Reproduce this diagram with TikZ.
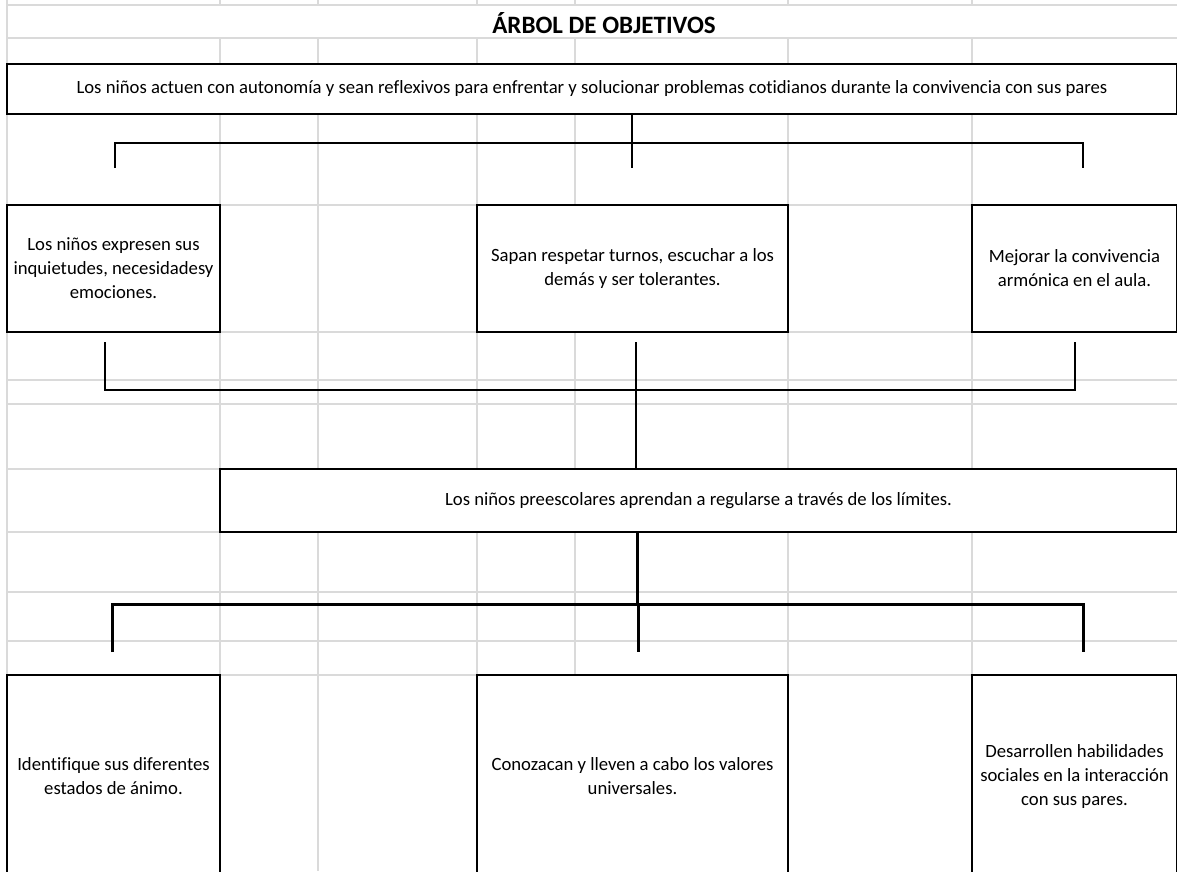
\documentclass[tikz,border=0pt]{standalone}
\usepackage{fontspec}
\setmainfont{Carlito}[Ligatures={NoCommon}]
\usepackage{tikz}
\definecolor{gridgray}{RGB}{218,218,218}

\begin{document}
\begin{tikzpicture}[
	x=1pt, y=-1pt,
	txt/.style={font=\fontsize{18.7}{24}\selectfont},
	box/.style={rectangle, draw, fill=white, line width=1.6pt, inner sep=2pt, outer sep=0pt, align=center, txt},
	cellline/.style={gridgray, line width=1.4pt},
	link/.style={line width=2.4pt},
	linkb/.style={line width=3pt}
	]
	\useasboundingbox (0,0) rectangle (1177,871);
	\clip (0,0) rectangle (1177,871);
	
	% Grid
	\foreach \gx in {7,220,318,477,575,788,972}
		\draw[cellline] (\gx,0) -- (\gx,871);
	\foreach \gy in {5,38,64,114,205,332,380,404,469,532,592,641,675}
		\draw[cellline] (7,\gy) -- (1177,\gy);
	\fill[white] (8,6) rectangle (1177,37);
	
	% Nodes
	\node (Titulo) at (604,23) {\fontsize{25}{28}\selectfont\bfseries ÁRBOL DE OBJETIVOS};
	\node (Fin) [box, minimum width=1170pt, minimum height=50pt] at (592,89) {Los niños actuen con autonomía y sean reflexivos para enfrentar y solucionar problemas cotidianos durante la convivencia con sus pares};
	\node (FinA) [box, minimum width=213pt, minimum height=127pt] at (113.5,268.5) {Los niños expresen sus\\inquietudes, necesidadesy\\emociones.};
	\node (FinB) [box, minimum width=311pt, minimum height=127pt] at (632.5,268.5) {Sapan respetar turnos, escuchar a los\\demás y ser tolerantes.};
	\node (FinC) [box, minimum width=205pt, minimum height=127pt] at (1074.5,268.5) {Mejorar la convivencia\\armónica en el aula.};
	\node (Proposito) [box, minimum width=957pt, minimum height=63pt] at (698.5,500.5) {Los niños preescolares aprendan a regularse a través de los límites.};
	\node (MedioA) [box, minimum width=213pt, minimum height=202pt] at (113.5,776) {Identifique sus diferentes\\estados de ánimo.};
	\node (MedioB) [box, minimum width=311pt, minimum height=202pt] at (632.5,776) {Conozacan y lleven a cabo los valores\\universales.};
	\node (MedioC) [box, minimum width=205pt, minimum height=202pt] at (1074.5,776) {Desarrollen habilidades\\sociales en la interacción\\con sus pares.};
	
	% Connectors
	\coordinate (topJ) at (632,143);
	\coordinate (topL) at (115,143);
	\coordinate (topR) at (1083,143);
	\coordinate (dropA) at (115,168);
	\coordinate (dropB) at (632,168);
	\coordinate (dropC) at (1083,168);
	\draw[link] (dropA) -- (topL) -- (topR) -- (dropC);
	\draw[link] (Fin.south -| topJ) -- (dropB);
	
	\coordinate (midJ) at (636,390);
	\coordinate (midL) at (105,390);
	\coordinate (midR) at (1075,390);
	\coordinate (riseA) at (105,342);
	\coordinate (riseB) at (636,342);
	\coordinate (riseC) at (1075,342);
	\draw[link] (riseA) -- (midL) -- (midR) -- (riseC);
	\draw[link] (riseB) -- (Proposito.north -| midJ);
	
	\coordinate (lowJ) at (637,604);
	\coordinate (lowL) at (112,604);
	\coordinate (lowR) at (1083,604);
	\coordinate (dropE) at (112,652);
	\coordinate (dropF) at (638,652);
	\coordinate (dropG) at (1083,652);
	\draw[linkb] (dropE) -- (lowL) -- (lowR) -- (dropG);
	\draw[linkb] (Proposito.south -| lowJ) -- (lowJ);
	\draw[linkb] (lowJ -| dropF) -- (dropF);
	
\end{tikzpicture}
\end{document}
